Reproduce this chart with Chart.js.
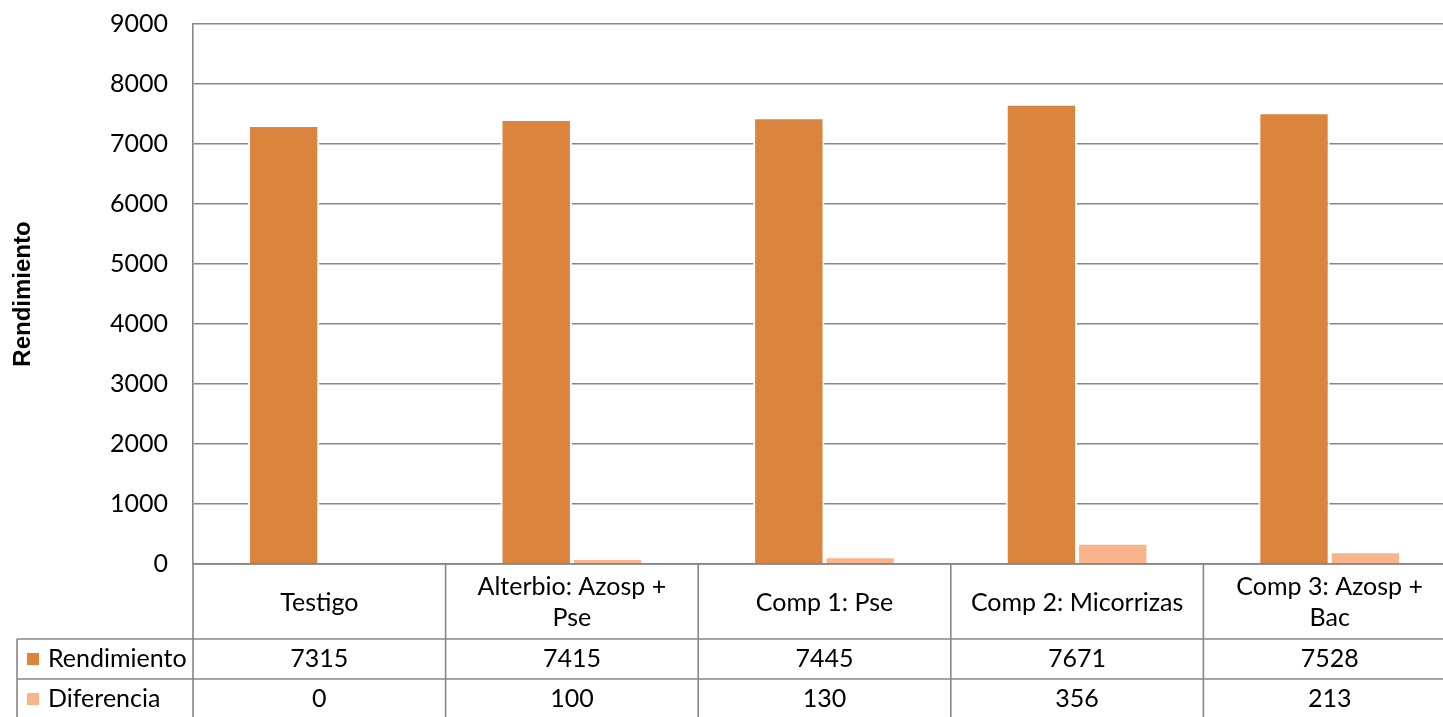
<!DOCTYPE html>
<html lang="es">
<head>
    <meta charset="UTF-8">
    <title>Rendimiento</title>
    <script src="https://cdn.jsdelivr.net/npm/chart.js"></script>
    <style>
        html, body {
            margin: 0;
            padding: 0;
            background: #fff;
            overflow: hidden;
        }
        canvas {
            display: block;
        }
    </style>
</head>
<body>
    <canvas id="chart" width="1458" height="717"></canvas>

    <script>
        // data
        const categories = [
            ['Testigo'],
            ['Alterbio: Azosp +', 'Pse'],
            ['Comp 1: Pse'],
            ['Comp 2: Micorrizas'],
            ['Comp 3: Azosp +', 'Bac']
        ];
        const seriesNames = ['Rendimiento', 'Diferencia'];
        const rendimiento = [7315, 7415, 7445, 7671, 7528];
        const diferencia = [0, 100, 130, 356, 213];
        const yMax = 9000;
        const yStep = 1000;

        const colors = ['#db843d', '#f9b48c'];
        const gridColor = '#878787';
        const textFont = 'Lato, "Liberation Sans", sans-serif';
        const textSize = 25;

        // draws the data table under the plot (Excel style)
        const dataTable = {
            id: 'dataTable',
            afterDraw(chart) {
                const ctx = chart.ctx;
                const x = chart.scales.x;
                const area = chart.chartArea;
                const top = area.bottom;
                const catBottom = 639;
                const row1Bottom = 679;
                const row2Bottom = 719;
                const leftEdge = 17;
                const step = (area.right - area.left) / categories.length;

                ctx.save();
                ctx.strokeStyle = gridColor;
                ctx.lineWidth = 1.6;
                ctx.beginPath();
                // horizontal lines
                ctx.moveTo(area.left, top); ctx.lineTo(area.right, top);
                [catBottom, row1Bottom, row2Bottom].forEach(y => {
                    ctx.moveTo(leftEdge, y); ctx.lineTo(area.right, y);
                });
                // vertical lines
                ctx.moveTo(leftEdge, catBottom); ctx.lineTo(leftEdge, row2Bottom);
                for (let i = 0; i <= categories.length; i++) {
                    const xx = area.left + i * step;
                    ctx.moveTo(xx, top); ctx.lineTo(xx, row2Bottom);
                }
                ctx.stroke();

                ctx.fillStyle = '#000';
                ctx.font = textSize + 'px ' + textFont;
                ctx.textAlign = 'center';
                ctx.textBaseline = 'middle';

                const lineH = 31;
                categories.forEach((lines, i) => {
                    const cx = x.getPixelForTick(i);
                    const mid = (top + catBottom) / 2 + 1;
                    lines.forEach((t, j) => {
                        ctx.fillText(t, cx, mid + (j - (lines.length - 1) / 2) * lineH);
                    });
                    ctx.fillText(String(rendimiento[i]), cx, (catBottom + row1Bottom) / 2);
                    ctx.fillText(String(diferencia[i]), cx, (row1Bottom + row2Bottom) / 2);
                });

                // legend keys
                const rows = [(catBottom + row1Bottom) / 2, (row1Bottom + row2Bottom) / 2];
                ctx.textAlign = 'left';
                seriesNames.forEach((name, k) => {
                    ctx.fillStyle = colors[k];
                    ctx.fillRect(27, rows[k] - 6, 12, 12);
                    ctx.fillStyle = '#000';
                    ctx.fillText(name, 48, rows[k]);
                });
                ctx.restore();
            }
        };

        new Chart(document.getElementById('chart'), {
            type: 'bar',
            data: {
                labels: categories,
                datasets: [
                    {
                        label: seriesNames[0],
                        data: rendimiento,
                        backgroundColor: colors[0],
                        borderColor: '#ffffff',
                        borderWidth: 2,
                        borderSkipped: 'bottom'
                    },
                    {
                        label: seriesNames[1],
                        data: diferencia,
                        backgroundColor: colors[1],
                        borderColor: '#ffffff',
                        borderWidth: 2,
                        borderSkipped: 'bottom'
                    }
                ]
            },
            options: {
                responsive: false,
                animation: false,
                devicePixelRatio: 1,
                layout: {
                    padding: { left: 0, right: 2, top: 24, bottom: 153 }
                },
                plugins: {
                    legend: { display: false },
                    tooltip: { enabled: false }
                },
                datasets: {
                    bar: {
                        categoryPercentage: 0.565,
                        barPercentage: 1
                    }
                },
                scales: {
                    x: {
                        display: false
                    },
                    y: {
                        min: 0,
                        max: yMax,
                        afterFit(scale) {
                            scale.width = 193;
                            scale.paddingTop = 0;
                            scale.paddingBottom = 0;
                        },
                        ticks: {
                            stepSize: yStep,
                            padding: 25,
                            color: '#000',
                            font: { family: textFont, size: textSize },
                            callback: v => String(v)
                        },
                        grid: {
                            color: gridColor,
                            lineWidth: 1.6,
                            drawTicks: false
                        },
                        border: {
                            color: gridColor,
                            width: 1.6
                        },
                        title: {
                            display: true,
                            text: 'Rendimiento',
                            color: '#000',
                            padding: { top: 9, bottom: 0 },
                            font: { family: '"Liberation Sans", Arial, sans-serif', size: 24, weight: 'bold' }
                        }
                    }
                }
            },
            plugins: [dataTable]
        });
    </script>
</body>
</html>
